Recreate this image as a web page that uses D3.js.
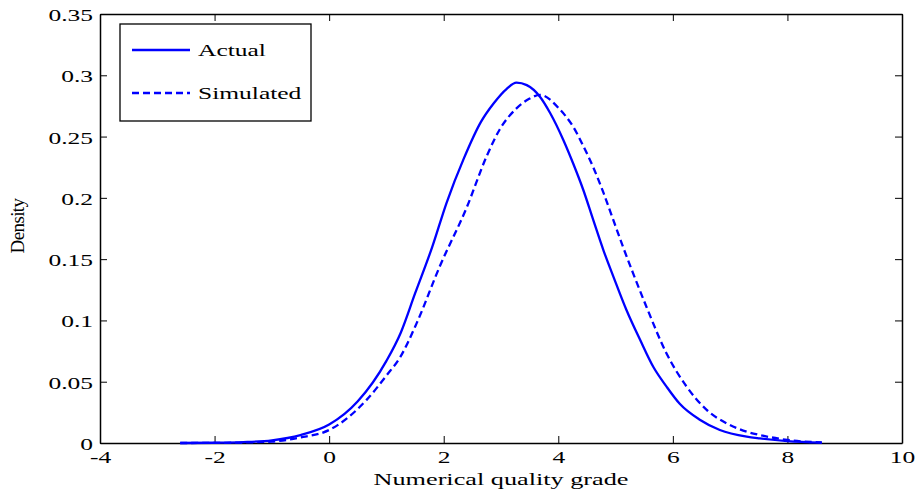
<!DOCTYPE html>
<html><head><meta charset="utf-8">
<script src="https://cdn.jsdelivr.net/npm/d3@7"></script>
<style>
body{margin:0;background:#fff;}
svg{display:block;}
text{font-family:"Liberation Serif","Times New Roman",serif;fill:#000;}
</style></head>
<body>
<svg id="chart" width="921" height="495"></svg>
<script>
// ---- data ----
const actualX = [-2.6,-2.0,-1.5,-1.0,-0.5,0.0,0.5,1.0,1.25,1.5,1.8,2.05,2.35,2.65,2.87,3.10,3.27,3.45,3.68,3.86,4.09,4.26,4.44,4.61,4.79,4.96,5.19,5.43,5.66,5.89,6.12,6.47,6.82,7.29,7.52,8.0,8.6];
const actualY = [0.0000,0.0002,0.0007,0.0022,0.0065,0.0150,0.034,0.067,0.090,0.122,0.160,0.196,0.232,0.262,0.277,0.289,0.294,0.292,0.2825,0.269,0.247,0.228,0.206,0.182,0.157,0.136,0.1085,0.084,0.062,0.046,0.032,0.019,0.0106,0.0052,0.0038,0.0016,0.0003];
const simX = [-2.6,-2.0,-1.5,-1.0,-0.5,0.0,0.65,1.0,1.24,1.53,1.93,2.40,2.75,2.98,3.27,3.50,3.68,4.03,4.26,4.44,4.61,4.79,4.96,5.13,5.31,5.54,5.89,6.24,6.59,6.94,7.29,7.52,8.0,8.6];
const simY = [0.0000,0.0001,0.0004,0.0012,0.0045,0.0106,0.035,0.055,0.070,0.098,0.144,0.192,0.234,0.256,0.273,0.281,0.284,0.272,0.258,0.242,0.225,0.204,0.182,0.160,0.138,0.111,0.073,0.046,0.027,0.016,0.0092,0.0065,0.0025,0.0004];
const xTicks = [-4,-2,0,2,4,6,8,10];
const yTicks = [0,0.05,0.1,0.15,0.2,0.25,0.3,0.35];
const xLabel = "Numerical quality grade";
const yLabel = "Density";
const seriesNames = ["Actual","Simulated"];

(function(){
const SX = 1.5; // horizontal stretch of the glyphs in the reference
const L=100, R=902, T=14, B=443;
const svg = d3.select("#chart");
const x = d3.scaleLinear().domain([-4,10]).range([L,R]);
const y = d3.scaleLinear().domain([0,0.35]).range([B,T]);

const tickLen = 7;
function styleAxis(g){
  g.selectAll(".domain").attr("stroke","#000").attr("stroke-width",1.5);
  g.selectAll(".tick line").attr("stroke","#000").attr("stroke-width",1);
}
const gB = svg.append("g").attr("transform",`translate(0,${B})`)
  .call(d3.axisBottom(x).tickValues(xTicks).tickSize(-tickLen).tickSizeOuter(0).tickFormat(d=>d));
styleAxis(gB);
gB.selectAll(".tick text").attr("font-size",17).attr("y",20).attr("dy",0)
  .attr("font-family","Liberation Serif").attr("transform",`scale(${SX},1)`).attr("fill","#000");
const gT = svg.append("g").attr("transform",`translate(0,${T})`)
  .call(d3.axisTop(x).tickValues(xTicks).tickSize(-tickLen).tickSizeOuter(0).tickFormat(""));
styleAxis(gT);
const gL = svg.append("g").attr("transform",`translate(${L},0)`)
  .call(d3.axisLeft(y).tickValues(yTicks).tickSize(-tickLen).tickSizeOuter(0).tickFormat(d=>String(d)));
styleAxis(gL);
gL.selectAll(".tick text").attr("font-size",17).attr("x",-7/SX).attr("dy","0.38em")
  .attr("font-family","Liberation Serif").attr("transform",`scale(${SX},1)`).attr("fill","#000");
const gR = svg.append("g").attr("transform",`translate(${R},0)`)
  .call(d3.axisRight(y).tickValues(yTicks).tickSize(-tickLen).tickSizeOuter(0).tickFormat(""));
styleAxis(gR);

const line = d3.line().x(d=>x(d[0])).y(d=>y(d[1])).curve(d3.curveMonotoneX);
const actual = actualX.map((v,i)=>[v,actualY[i]]);
const sim = simX.map((v,i)=>[v,simY[i]]);
svg.append("path").datum(sim).attr("d",line).attr("fill","none")
  .attr("stroke","#0000ff").attr("stroke-width",2.3).attr("stroke-dasharray","7,4");
svg.append("path").datum(actual).attr("d",line).attr("fill","none")
  .attr("stroke","#0000ff").attr("stroke-width",2.3);

svg.append("text").attr("transform",`translate(${(L+R)/2},485) scale(${SX},1)`)
  .attr("text-anchor","middle").attr("font-size",17.5).text(xLabel);
svg.append("text").attr("transform",`translate(24,226) rotate(-90)`)
  .attr("text-anchor","middle").attr("font-size",19).attr("letter-spacing","-0.6").text(yLabel);

const lg = svg.append("g");
lg.append("rect").attr("x",120).attr("y",24).attr("width",191).attr("height",97)
  .attr("fill","#fff").attr("stroke","#000").attr("stroke-width",1.3);
const legY = [50,93];
seriesNames.forEach((n,i)=>{
  lg.append("line").attr("x1",132).attr("x2",190).attr("y1",legY[i]).attr("y2",legY[i])
    .attr("stroke","#0000ff").attr("stroke-width",2.3).attr("stroke-dasharray",i?"7,4":null);
  lg.append("text").attr("transform",`translate(198,${legY[i]+6}) scale(${SX},1)`)
    .attr("font-size",17).text(n);
});
})();
</script>
</body></html>
